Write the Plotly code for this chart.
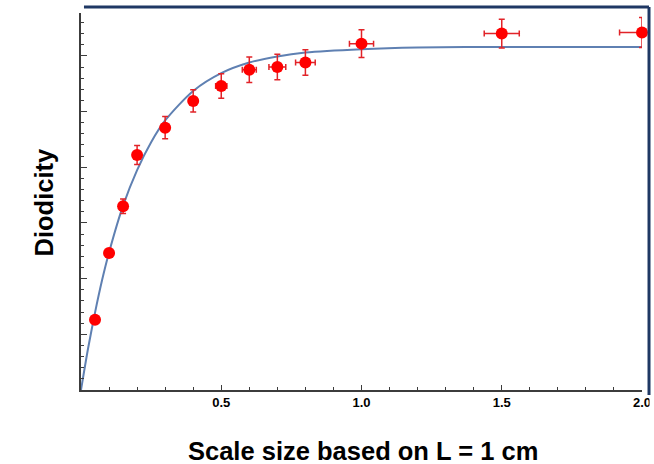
import plotly.graph_objects as go

# ---- data ----
scale_size = [0.05, 0.1, 0.15, 0.2, 0.3, 0.4, 0.5, 0.6, 0.7, 0.8, 1.0, 1.5, 2.0]
diodicity = [1.26, 2.46, 3.30, 4.22, 4.71, 5.19, 5.46, 5.75, 5.80, 5.88, 6.22, 6.40, 6.42]
diodicity_err = [0.0, 0.06, 0.13, 0.17, 0.20, 0.20, 0.22, 0.23, 0.23, 0.23, 0.25, 0.26, 0.27]
scale_err = [0.0, 0.0, 0.0, 0.0, 0.0, 0.01, 0.02, 0.025, 0.03, 0.035, 0.043, 0.0625, 0.08]

fit_x = [0, 0.025, 0.05, 0.075, 0.1, 0.15, 0.2, 0.25, 0.3, 0.4, 0.5, 0.6, 0.7, 0.8, 1.0, 1.2, 1.5, 2.0]
fit_y = [0, 0.74, 1.39, 1.97, 2.47, 3.31, 3.95, 4.45, 4.84, 5.37, 5.69, 5.88, 5.99, 6.06, 6.12, 6.15, 6.16, 6.16]

x_tickvals = [0.5, 1.0, 1.5, 2.0]
x_ticktext = ["0.5", "1.0", "1.5", "2.0"]

FONT = "Liberation Sans, Arial, sans-serif"
AXIS = "rgb(60,60,60)"
NAVY = "rgb(31,56,100)"

fig = go.Figure()
fig.add_trace(go.Scatter(
    x=fit_x, y=fit_y, mode="lines",
    line=dict(color="rgb(95,128,178)", width=2, shape="spline", smoothing=0.8),
    hoverinfo="skip", showlegend=False,
))
fig.add_trace(go.Scatter(
    x=scale_size, y=diodicity, mode="markers",
    marker=dict(color="rgb(255,0,0)", size=12),
    error_y=dict(type="data", array=diodicity_err, color="rgb(225,35,40)", thickness=1.5, width=3),
    error_x=dict(type="data", array=scale_err, color="rgb(225,35,40)", thickness=1.5, width=3),
    cliponaxis=False, showlegend=False,
))

fig.update_layout(
    width=654, height=464, autosize=False,
    margin=dict(l=81, r=12, t=13, b=74),
    paper_bgcolor="white", plot_bgcolor="white",
    font=dict(family=FONT, color="black"),
    xaxis=dict(
        range=[0, 2.0], showgrid=False, zeroline=False, automargin=False,
        showline=True, linecolor=AXIS, linewidth=1.5,
        ticks="inside", ticklen=5, tickwidth=1, tickcolor=AXIS,
        tickvals=x_tickvals, ticktext=x_ticktext,
        tickfont=dict(family=FONT, size=13, color="black", weight="bold"),
        minor=dict(dtick=0.1, ticks="inside", ticklen=3, tickcolor=AXIS, showgrid=False),
    ),
    yaxis=dict(
        range=[0, 6.77], showgrid=False, zeroline=False, automargin=False,
        showline=True, linecolor=AXIS, linewidth=1.5,
        ticks="inside", ticklen=6, tickwidth=1, tickcolor=AXIS,
        dtick=1, tick0=0, showticklabels=False,
        minor=dict(dtick=0.2, ticks="inside", ticklen=3, tickcolor=AXIS, showgrid=False),
    ),
    annotations=[
        dict(text="<b>Scale size based on L = 1 cm</b>", xref="paper", yref="paper",
             x=0.5018, y=-0.162, xanchor="center", yanchor="middle", showarrow=False,
             font=dict(family=FONT, size=25.5, color="black")),
        dict(text="<b>Diodicity</b>", xref="paper", yref="paper",
             x=-0.0651, y=0.4987, xanchor="center", yanchor="middle", showarrow=False,
             textangle=-90, font=dict(family=FONT, size=25.5, color="black")),
    ],
    shapes=[
        dict(type="line", xref="paper", yref="paper", x0=0.0053, x1=1.0125, y0=1.0159, y1=1.0159,
             line=dict(color=NAVY, width=3), layer="above"),
        dict(type="rect", xref="paper", yref="paper", x0=1.0134, x1=1.05, y0=-0.09, y1=0.03,
             line=dict(width=0), fillcolor="white", layer="above"),
        dict(type="line", xref="paper", yref="paper", x0=1.0125, x1=1.0125, y0=-0.0133, y1=1.0159,
             line=dict(color=NAVY, width=3), layer="above"),
    ],
)

fig.write_html("out.html", config={"responsive": False})
